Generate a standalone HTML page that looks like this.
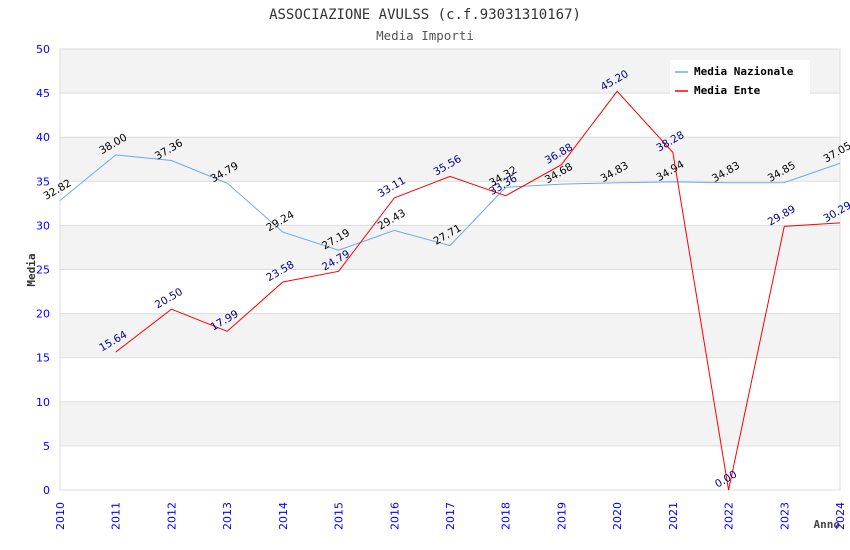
<!DOCTYPE html>
<html><head><meta charset="utf-8"><style>
body{margin:0;background:#fff}
svg{display:block;font-family:"DejaVu Sans","Liberation Sans",sans-serif}
</style></head><body>
<svg id="c" width="850" height="550" xmlns="http://www.w3.org/2000/svg">
<text x="425" y="19" text-anchor="middle" font-family="DejaVu Sans Mono, Liberation Mono, monospace" font-size="14" fill="#333">ASSOCIAZIONE AVULSS (c.f.93031310167)</text>
<text x="425" y="40" text-anchor="middle" font-family="DejaVu Sans Mono, Liberation Mono, monospace" font-size="12.5" fill="#555">Media Importi</text>
<text transform="translate(35,270) rotate(-90)" text-anchor="middle" font-family="DejaVu Sans Mono, Liberation Mono, monospace" font-weight="bold" font-size="11" fill="#333">Media</text>
<text x="840" y="528" text-anchor="end" font-family="DejaVu Sans Mono, Liberation Mono, monospace" font-weight="bold" font-size="11" fill="#444">Anno</text>
<g id="plot"></g>
<g>
<rect x="670" y="60" width="140" height="36" fill="#fff"/>
<line x1="675" y1="72" x2="688" y2="72" stroke="#6aa9ee" stroke-width="1.5"/>
<text x="694" y="75" font-family="DejaVu Sans Mono, Liberation Mono, monospace" font-weight="bold" font-size="11">Media Nazionale</text>
<line x1="675" y1="91" x2="688" y2="91" stroke="#f00" stroke-width="1.5"/>
<text x="694" y="94" font-family="DejaVu Sans Mono, Liberation Mono, monospace" font-weight="bold" font-size="11">Media Ente</text>
</g>
</svg>
<script>
const years=[2010,2011,2012,2013,2014,2015,2016,2017,2018,2019,2020,2021,2022,2023,2024];
const yTicks=[0,5,10,15,20,25,30,35,40,45,50];
const nazionale=[32.82,38.00,37.36,34.79,29.24,27.19,29.43,27.71,34.32,34.68,34.83,34.94,34.83,34.85,37.05];
const ente=[null,15.64,20.50,17.99,23.58,24.79,33.11,35.56,33.36,36.88,45.20,38.28,0.00,29.89,30.29];
const L=60,R=840,T=49,B=490;
const xs=i=>L+(R-L)*i/(years.length-1);
const ys=v=>B-(B-T)*v/50;
const NS="http://www.w3.org/2000/svg";
const g=document.getElementById('plot');
function mk(t,a){const e=document.createElementNS(NS,t);for(const k in a)e.setAttribute(k,a[k]);g.appendChild(e);return e;}
for(let k=0;k<yTicks.length-1;k++){
 if(k%2===1){const r=mk('rect',{x:L,y:ys(yTicks[k+1]),width:R-L,height:ys(yTicks[k])-ys(yTicks[k+1]),fill:'#f3f3f3'});
 
 }
}
yTicks.forEach(v=>{
 const l=mk('line',{x1:L,x2:R,y1:ys(v),y2:ys(v),stroke:'#ddd'});
 
 
 const t=mk('text',{x:L-10,y:ys(v)+4,'text-anchor':'end','font-size':'11',fill:'#00f'});t.textContent=v;
 
 
});
const ax=mk('rect',{x:L,y:T,width:R-L,height:B-T,fill:'none',stroke:'#ddd'});


years.forEach((y,i)=>{
 const t=mk('text',{transform:`translate(${xs(i)+4},${B+40}) rotate(-90)`,'font-size':'11',fill:'#00f'});t.textContent=y;
 
 
});
function series(vals,color,lc,name){
 let d='';vals.forEach((v,i)=>{if(v==null)return;d+=(d?'L':'M')+xs(i)+','+ys(v);});
 const p=mk('path',{d,fill:'none',stroke:color,'stroke-width':1});
 
 
 vals.forEach((v,i)=>{if(v==null)return;
  const t=mk('text',{transform:`translate(${xs(i)-1},${ys(v)-8}) rotate(-30)`,'text-anchor':'middle','font-size':'10.5',fill:lc});
  t.textContent=v.toFixed(2);
  
  
 });
}
series(nazionale,'#6aa9ee','#000','nazionale');
series(ente,'#f00','#00008b','ente');
</script>
</body></html>
